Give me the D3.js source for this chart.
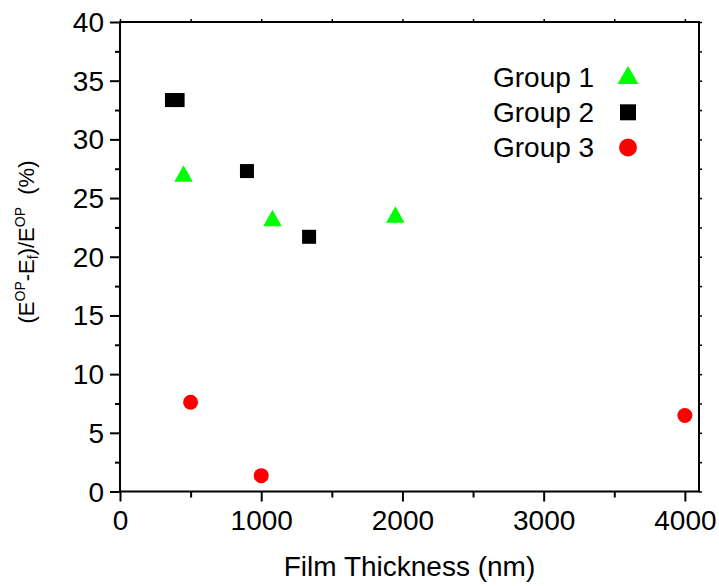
<!DOCTYPE html>
<html><head><meta charset="utf-8">
<script src="https://cdn.jsdelivr.net/npm/d3@7"></script>
<style>
html,body{margin:0;padding:0;background:#fff;}
svg{display:block;font-family:"Liberation Sans",Arial,sans-serif;}
</style></head>
<body>
<svg id="c" width="719" height="586"></svg>
<script>
// Data
const group1X = [450, 1080, 1950];
const group1Y = [27.1, 23.3, 23.6];
const group2X = [368, 408, 899, 1339];
const group2Y = [33.35, 33.35, 27.3, 21.7];
const group3X = [500, 1000, 4000];
const group3Y = [7.6, 1.35, 6.47];
const seriesNames = ["Group 1", "Group 2", "Group 3"];
const xTicks = [0, 1000, 2000, 3000, 4000];
const yTicks = [0, 5, 10, 15, 20, 25, 30, 35, 40];

const svg = d3.select("#c");
const L = 120, R = 699, T = 22, B = 491.5;
const x = d3.scaleLinear().domain([0, 4100]).range([L, R]);
const y = d3.scaleLinear().domain([0, 40]).range([B, T]);

const xMinor = d3.range(500, 4100, 1000);
const yMinor = d3.range(2.5, 40, 5);
const fs = 28;

// bottom axis
const gx = svg.append("g").attr("transform", `translate(0,${B})`)
  .call(d3.axisBottom(x).tickValues(xTicks).tickSize(10).tickPadding(9).tickFormat(d3.format("d")));
gx.select(".domain").remove();
gx.selectAll("text").attr("font-size", fs).attr("font-family", "Liberation Sans, Arial, sans-serif").attr("fill", "#000");
gx.selectAll("line").attr("stroke-width", 2);
svg.append("g").attr("transform", `translate(0,${B})`)
  .call(d3.axisBottom(x).tickValues(xMinor).tickSize(6).tickFormat(""))
  .call(g => { g.select(".domain").remove(); g.selectAll("line").attr("stroke-width", 2); });

// left axis
const gy = svg.append("g").attr("transform", `translate(${L},0)`)
  .call(d3.axisLeft(y).tickValues(yTicks).tickSize(10).tickPadding(6).tickFormat(d3.format("d")));
gy.select(".domain").remove();
gy.selectAll("text").attr("font-size", fs).attr("font-family", "Liberation Sans, Arial, sans-serif").attr("fill", "#000").attr("dy", "0.34em");
gy.selectAll("line").attr("stroke-width", 2);
svg.append("g").attr("transform", `translate(${L},0)`)
  .call(d3.axisLeft(y).tickValues(yMinor).tickSize(5).tickFormat(""))
  .call(g => { g.select(".domain").remove(); g.selectAll("line").attr("stroke-width", 2); });

// top & right small ticks
svg.append("g").attr("transform", `translate(0,${T})`)
  .call(d3.axisTop(x).tickValues(xTicks.concat(xMinor)).tickSize(3).tickFormat(""))
  .call(g => { g.select(".domain").remove(); g.selectAll("line").attr("stroke-width", 1.5); });
svg.append("g").attr("transform", `translate(${R},0)`)
  .call(d3.axisRight(y).tickValues(yTicks.concat(yMinor)).tickSize(3).tickFormat(""))
  .call(g => { g.select(".domain").remove(); g.selectAll("line").attr("stroke-width", 1.5); });

// frame
svg.append("rect").attr("x", L).attr("y", T).attr("width", R - L).attr("height", B - T)
  .attr("fill", "none").attr("stroke", "#000").attr("stroke-width", 2);

// markers
const tri = d3.symbol().type(d3.symbolTriangle);
function triPath(w, h) {
  return `M0,${-h/2}L${w/2},${h/2}L${-w/2},${h/2}Z`;
}
const g1 = group1X.map((v, i) => ({x: v, y: group1Y[i]}));
const g2 = group2X.map((v, i) => ({x: v, y: group2Y[i]}));
const g3 = group3X.map((v, i) => ({x: v, y: group3Y[i]}));

svg.append("g").selectAll("path").data(g1).join("path")
  .attr("d", triPath(18.5, 16.5))
  .attr("transform", d => `translate(${x(d.x)},${y(d.y)})`)
  .attr("fill", "#00ff00");
svg.append("g").selectAll("rect").data(g2).join("rect")
  .attr("x", d => x(d.x) - 7).attr("y", d => y(d.y) - 7)
  .attr("width", 14).attr("height", 14).attr("fill", "#000");
svg.append("g").selectAll("circle").data(g3).join("circle")
  .attr("cx", d => x(d.x)).attr("cy", d => y(d.y)).attr("r", 7.5).attr("fill", "#ff0000");

// legend
const lg = svg.append("g");
const lx = 493, ly0 = 86.5, dy = 35, mx = 628;
seriesNames.forEach((n, i) => {
  lg.append("text").attr("x", lx).attr("y", ly0 + i * dy).attr("font-size", fs).attr("fill", "#000").text(n);
});
lg.append("path").attr("d", triPath(21, 18)).attr("transform", `translate(${mx},75)`).attr("fill", "#00ff00");
lg.append("rect").attr("x", mx - 8).attr("y", 104.3).attr("width", 16).attr("height", 16).attr("fill", "#000");
lg.append("circle").attr("cx", mx).attr("cy", 147.5).attr("r", 9).attr("fill", "#ff0000");

// axis titles
svg.append("text").attr("x", (L + R) / 2).attr("y", 576).attr("text-anchor", "middle")
  .attr("font-size", fs).attr("fill", "#000").text("Film Thickness (nm)");

const yt = svg.append("text").attr("transform", "translate(34,242) rotate(-90)")
  .attr("text-anchor", "middle").attr("font-size", 22).attr("fill", "#000")
  .style("white-space", "pre");
yt.append("tspan").text("(E");
yt.append("tspan").attr("font-size", 14).attr("dy", -9).text("OP");
yt.append("tspan").attr("dy", 9).text("-E");
yt.append("tspan").attr("font-size", 14).attr("dy", 4).text("f");
yt.append("tspan").attr("dy", -4).text(")/E");
yt.append("tspan").attr("font-size", 14).attr("dy", -9).text("OP");
yt.append("tspan").attr("dy", 9).text("  (%)");
</script>
</body></html>
